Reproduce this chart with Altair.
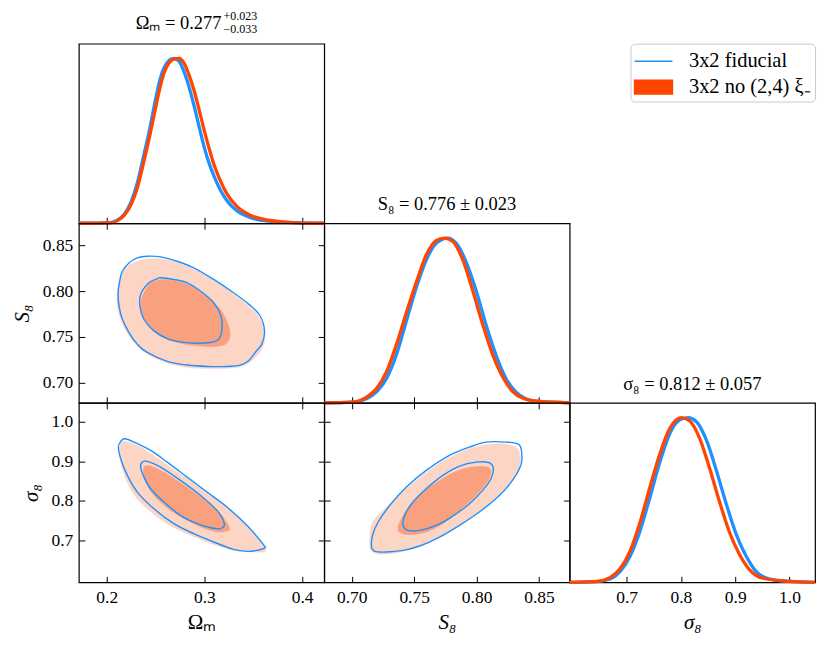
import altair as alt
import pandas as pd

# ---------------- 1D marginal posteriors (peak normalised) ----------------
om_fid_x = [0.172, 0.2044, 0.2112, 0.2180, 0.2247, 0.2315, 0.2383, 0.2434, 0.2485, 0.2536, 0.2586, 0.2637, 0.2688, 0.2739,
            0.2790, 0.2841, 0.2892, 0.2942, 0.2993, 0.3044, 0.3095, 0.3163, 0.3231, 0.3332, 0.3468, 0.3637, 0.3908, 0.4220]
om_fid_p = [0.0, 0.004, 0.020, 0.055, 0.127, 0.249, 0.422, 0.555, 0.708, 0.851, 0.943, 0.988, 1.000, 0.984,
            0.922, 0.831, 0.718, 0.596, 0.473, 0.371, 0.290, 0.202, 0.137, 0.076, 0.035, 0.014, 0.004, 0.0]
om_alt_x = [0.172, 0.2044, 0.2112, 0.2180, 0.2247, 0.2315, 0.2383, 0.2434, 0.2485, 0.2536, 0.2586, 0.2637, 0.2688, 0.2739,
            0.2790, 0.2841, 0.2892, 0.2942, 0.2993, 0.3044, 0.3095, 0.3163, 0.3231, 0.3332, 0.3468, 0.3637, 0.3908, 0.4220]
om_alt_p = [0.0, 0.004, 0.016, 0.049, 0.110, 0.218, 0.382, 0.514, 0.657, 0.800, 0.912, 0.973, 0.996, 1.000,
            0.973, 0.902, 0.810, 0.698, 0.576, 0.463, 0.361, 0.259, 0.178, 0.102, 0.049, 0.020, 0.004, 0.0]

s8_fid_x = [0.678, 0.7000, 0.7119, 0.7199, 0.7279, 0.7358, 0.7438, 0.7518, 0.7597, 0.7677, 0.7770, 0.7836, 0.7916,
            0.7996, 0.8075, 0.8155, 0.8235, 0.8314, 0.8394, 0.8500, 0.8745]
s8_fid_p = [0.0, 0.004, 0.025, 0.066, 0.148, 0.292, 0.497, 0.702, 0.867, 0.969, 1.0, 0.969, 0.856,
            0.682, 0.476, 0.292, 0.148, 0.066, 0.025, 0.008, 0.0]
s8_alt_x = [0.678, 0.7000, 0.7119, 0.7199, 0.7279, 0.7358, 0.7438, 0.7518, 0.7597, 0.7677, 0.7743, 0.7810, 0.7890,
            0.7969, 0.8049, 0.8129, 0.8208, 0.8288, 0.8367, 0.8500, 0.8745]
s8_alt_p = [0.0, 0.004, 0.035, 0.086, 0.189, 0.353, 0.548, 0.733, 0.897, 0.986, 1.0, 0.979, 0.867,
            0.682, 0.476, 0.292, 0.158, 0.070, 0.029, 0.008, 0.0]

sg_fid_x = [0.595, 0.6449, 0.6694, 0.6878, 0.7061, 0.7245, 0.7429, 0.7612, 0.7796, 0.7980, 0.8133, 0.8286, 0.8470,
            0.8653, 0.8837, 0.9021, 0.9205, 0.9388, 0.9633, 1.0000, 1.047]
sg_fid_p = [0.0, 0.004, 0.020, 0.065, 0.157, 0.311, 0.515, 0.730, 0.904, 0.986, 1.0, 0.975, 0.863,
            0.679, 0.474, 0.290, 0.157, 0.065, 0.020, 0.006, 0.0]
sg_alt_x = [0.595, 0.6449, 0.6694, 0.6878, 0.7061, 0.7245, 0.7429, 0.7612, 0.7796, 0.8010, 0.8163, 0.8347, 0.8531,
            0.8715, 0.8898, 0.9082, 0.9266, 0.9511, 1.0000, 1.047]
sg_alt_p = [0.0, 0.006, 0.029, 0.082, 0.188, 0.362, 0.577, 0.781, 0.935, 1.0, 0.980, 0.873, 0.689,
            0.485, 0.301, 0.168, 0.076, 0.025, 0.006, 0.0]

# ---------------- 2D contours: S8 vs Omega_m ----------------
s8om_fid_out_x = [0.2116, 0.2136, 0.2160, 0.2228, 0.2313, 0.2415, 0.2551, 0.2721, 0.2891, 0.3095, 0.3299, 0.3469, 0.3571, 0.3616,
                  0.3588, 0.3520, 0.3452, 0.3367, 0.3231, 0.3027, 0.2823, 0.2619, 0.2415, 0.2313, 0.2228, 0.2160, 0.2126]
s8om_fid_out_y = [0.7984, 0.8130, 0.8220, 0.8311, 0.8366, 0.8384, 0.8377, 0.8329, 0.8257, 0.8130, 0.7984, 0.7846, 0.7730, 0.7567,
                  0.7422, 0.7331, 0.7240, 0.7193, 0.7178, 0.7178, 0.7193, 0.7233, 0.7331, 0.7422, 0.7549, 0.7694, 0.7839]
s8om_alt_out_x = [0.2109, 0.2143, 0.2245, 0.2415, 0.2585, 0.2755, 0.2959, 0.3163, 0.3367, 0.3520, 0.3599, 0.3616,
                  0.3588, 0.3503, 0.3401, 0.3231, 0.2959, 0.2721, 0.2517, 0.2347, 0.2228, 0.2143, 0.2109]
s8om_alt_out_y = [0.7984, 0.8166, 0.8293, 0.8355, 0.8347, 0.8304, 0.8202, 0.8075, 0.7912, 0.7767, 0.7621, 0.7476,
                  0.7367, 0.7258, 0.7186, 0.7157, 0.7157, 0.7186, 0.7258, 0.7367, 0.7512, 0.7694, 0.7839]
s8om_fid_in_x = [0.2347, 0.2432, 0.2517, 0.2551, 0.2687, 0.2823, 0.2959, 0.3095, 0.3170, 0.3180, 0.3146, 0.3061,
                 0.2925, 0.2755, 0.2619, 0.2483, 0.2381, 0.2340]
s8om_fid_in_y = [0.7966, 0.8093, 0.8137, 0.8148, 0.8130, 0.8093, 0.8003, 0.7875, 0.7730, 0.7585, 0.7476, 0.7440,
                 0.7432, 0.7447, 0.7483, 0.7567, 0.7694, 0.7839]
s8om_alt_in_x = [0.2354, 0.2432, 0.2483, 0.2619, 0.2823, 0.2993, 0.3163, 0.3248, 0.3259, 0.3214, 0.3095, 0.2925,
                 0.2721, 0.2551, 0.2432, 0.2364]
s8om_alt_in_y = [0.7912, 0.8075, 0.8111, 0.8130, 0.8075, 0.7966, 0.7803, 0.7621, 0.7494, 0.7422, 0.7396, 0.7403,
                 0.7440, 0.7512, 0.7621, 0.7767]

# ---------------- 2D contours: sigma8 vs Omega_m ----------------
sgom_fid_out_x = [0.2119, 0.2143, 0.2184, 0.2279, 0.2449, 0.2619, 0.2823, 0.3027, 0.3231, 0.3435, 0.3605, 0.3616,
                  0.3537, 0.3435, 0.3299, 0.3095, 0.2891, 0.2687, 0.2483, 0.2313, 0.2211, 0.2143]
sgom_fid_out_y = [0.9355, 0.9497, 0.9564, 0.9480, 0.9271, 0.8977, 0.8600, 0.8223, 0.7846, 0.7385, 0.6899, 0.6815,
                  0.6756, 0.6731, 0.6781, 0.6966, 0.7175, 0.7427, 0.7804, 0.8223, 0.8642, 0.9061]
sgom_alt_out_x = [0.2136, 0.2184, 0.2347, 0.2551, 0.2823, 0.3095, 0.3367, 0.3571, 0.3629, 0.3605, 0.3503, 0.3367,
                  0.3231, 0.3027, 0.2823, 0.2619, 0.2415, 0.2262, 0.2170, 0.2136]
sgom_alt_out_y = [0.9396, 0.9497, 0.9355, 0.9019, 0.8558, 0.8097, 0.7552, 0.6966, 0.6781, 0.6714, 0.6714, 0.6731,
                  0.6798, 0.6966, 0.7175, 0.7427, 0.7804, 0.8223, 0.8726, 0.9103]
sgom_fid_in_x = [0.2347, 0.2364, 0.2415, 0.2551, 0.2755, 0.2959, 0.3129, 0.3204, 0.3163, 0.3061, 0.2925, 0.2755,
                 0.2585, 0.2449, 0.2374]
sgom_fid_in_y = [0.8852, 0.8977, 0.8994, 0.8852, 0.8516, 0.8139, 0.7762, 0.7427, 0.7301, 0.7326, 0.7427, 0.7636,
                 0.7972, 0.8307, 0.8642]
sgom_alt_in_x = [0.2374, 0.2415, 0.2551, 0.2755, 0.2959, 0.3146, 0.3248, 0.3248, 0.3163, 0.3027, 0.2857, 0.2653,
                 0.2483, 0.2398]
sgom_alt_in_y = [0.8768, 0.8894, 0.8768, 0.8458, 0.8097, 0.7720, 0.7368, 0.7259, 0.7217, 0.7284, 0.7469, 0.7762,
                 0.8139, 0.8474]

# ---------------- 2D contours: sigma8 vs S8 ----------------
sgs8_fid_out_x = [0.8075, 0.8235, 0.8341, 0.8362, 0.8354, 0.8288, 0.8182, 0.8022, 0.7863, 0.7704, 0.7544, 0.7412,
                  0.7279, 0.7186, 0.7159, 0.7167, 0.7212, 0.7305, 0.7438, 0.7597, 0.7783, 0.7943]
sgs8_fid_out_y = [0.9480, 0.9480, 0.9413, 0.9145, 0.8894, 0.8516, 0.8139, 0.7720, 0.7385, 0.7091, 0.6865, 0.6756,
                  0.6714, 0.6731, 0.6840, 0.7133, 0.7469, 0.7888, 0.8349, 0.8768, 0.9145, 0.9355]
sgs8_alt_out_x = [0.7146, 0.7151, 0.7186, 0.7252, 0.7358, 0.7518, 0.7677, 0.7863, 0.8022, 0.8182, 0.8314, 0.8349,
                  0.8336, 0.8275, 0.8155, 0.7996, 0.7810, 0.7624, 0.7465, 0.7305, 0.7199, 0.7151]
sgs8_alt_out_y = [0.6966, 0.7301, 0.7552, 0.7762, 0.8097, 0.8516, 0.8894, 0.9212, 0.9380, 0.9438, 0.9355, 0.9103,
                  0.8810, 0.8474, 0.8097, 0.7678, 0.7301, 0.6966, 0.6773, 0.6672, 0.6672, 0.6781]
sgs8_fid_in_x = [0.7425, 0.7491, 0.7597, 0.7730, 0.7863, 0.7996, 0.8102, 0.8134, 0.8115, 0.8049, 0.7943, 0.7810,
                 0.7677, 0.7544, 0.7451, 0.7412]
sgs8_fid_in_y = [0.7636, 0.7972, 0.8307, 0.8642, 0.8877, 0.8977, 0.8961, 0.8810, 0.8558, 0.8265, 0.7930, 0.7619,
                 0.7385, 0.7259, 0.7259, 0.7385]
sgs8_alt_in_x = [0.7372, 0.7398, 0.7465, 0.7571, 0.7704, 0.7836, 0.7969, 0.8089, 0.8115, 0.8075, 0.7996, 0.7863,
                 0.7730, 0.7597, 0.7465, 0.7385]
sgs8_alt_in_y = [0.7343, 0.7552, 0.7888, 0.8223, 0.8516, 0.8743, 0.8852, 0.8852, 0.8684, 0.8433, 0.8139, 0.7762,
                 0.7427, 0.7217, 0.7150, 0.7200]

# ---------------- labels / ticks ----------------
legend_labels = ["3x2 fiducial", "3x2 no (2,4) ξ₋"]
om_ticks = [0.2, 0.3, 0.4]
s8_ticks = [0.70, 0.75, 0.80, 0.85]
sg_ticks = [0.7, 0.8, 0.9, 1.0]
om_title = "Ωₘ"
s8_title = "S₈"
sg_title = "σ₈"
om_summary = ["Ωₘ = 0.277", "+0.023", "−0.033"]
s8_summary = "S₈ = 0.776 ± 0.023"
sg_summary = "σ₈ = 0.812 ± 0.057"

# ---------------- style ----------------
BLUE = "#1E90FF"
RED = "#FF4500"
FILL_OUT = "#FDD5C4"
FILL_IN = "#F9A07E"
FONT = "Liberation Serif"
W, H = 246, 180
TK = 6
OM_DOM = [0.1714, 0.4227]
S8_DOM = [0.678, 0.8745]
SG_DOM = [0.595, 1.047]
P_DOM = [0, 1.09]


def curve(xs, ys):
    return pd.DataFrame({"x": xs, "y": ys})


def poly(xs, ys):
    return pd.DataFrame({"x": xs, "y": ys, "i": list(range(len(xs)))})


def axis(orient, values, fmt, labels, title=None, italic=False):
    kw = dict(orient=orient, values=values, format=fmt, labels=labels, offset=-TK, tickSize=TK,
              domain=False, grid=False, labelPadding=6, title=title,
              titleFontStyle="italic" if italic else "normal")
    if orient == "bottom":
        kw["titlePadding"] = 6
    if orient == "left":
        kw["titlePadding"] = 10
    return alt.Axis(**kw)


one = pd.DataFrame({"k": [0]})


def label(text, x, y, size, align="center"):
    return alt.Chart(one).mark_text(align=align, baseline="alphabetic", font=FONT, fontSize=size,
                                    color="black").encode(x=alt.value(x), y=alt.value(y), text=alt.value(text))


def panel2d(fo, fi, lo, li, xdom, ydom, xt, xf, yt, yf, xlab, ylab, xtitle, ytitle, xital, yital):
    xs = alt.Scale(domain=xdom, nice=False, zero=False)
    ys = alt.Scale(domain=ydom, nice=False, zero=False)

    def lay(df, mark, xa, ya):
        return alt.Chart(df).mark_line(**mark).encode(
            x=alt.X("x:Q", scale=xs, axis=xa),
            y=alt.Y("y:Q", scale=ys, axis=ya),
            order=alt.Order("i:Q"),
        )

    m_fo = dict(fill=FILL_OUT, stroke=FILL_OUT, strokeWidth=0.5, interpolate="cardinal-closed", clip=True)
    m_fi = dict(fill=FILL_IN, stroke=FILL_IN, strokeWidth=0.5, interpolate="cardinal-closed", clip=True)
    m_ln = dict(stroke=BLUE, strokeWidth=1.4, interpolate="cardinal-closed", clip=True)
    l1 = lay(fo, m_fo,
             axis("bottom", xt, xf, xlab, xtitle if xlab else None, xital),
             axis("left", yt, yf, ylab, ytitle if ylab else None, yital))
    l2 = lay(fi, m_fi, axis("top", xt, xf, False), axis("right", yt, yf, False))
    l3 = lay(lo, m_ln, None, None)
    l4 = lay(li, m_ln, None, None)
    return alt.layer(l1, l2, l3, l4).resolve_axis(x="independent", y="independent").properties(width=W, height=H)


def panel1d(d_fid, d_alt, dom, xt, xf, xlab, xtitle, xital, extra=None):
    xs = alt.Scale(domain=dom, nice=False, zero=False)
    ys = alt.Scale(domain=P_DOM, nice=False, zero=False)
    a = alt.Chart(d_fid).mark_line(color=BLUE, strokeWidth=3.3, interpolate="monotone").encode(
        x=alt.X("x:Q", scale=xs, axis=axis("bottom", xt, xf, xlab, xtitle if xlab else None, xital)),
        y=alt.Y("y:Q", scale=ys, axis=None))
    b = alt.Chart(d_alt).mark_line(color=RED, strokeWidth=3.3, interpolate="monotone").encode(
        x=alt.X("x:Q", scale=xs, axis=None),
        y=alt.Y("y:Q", scale=ys, axis=None))
    layers = [a, b] + (extra or [])
    return alt.layer(*layers).resolve_axis(x="independent", y="independent").properties(width=W, height=H)


top_om = panel1d(curve(om_fid_x, om_fid_p), curve(om_alt_x, om_alt_p), OM_DOM, om_ticks, ".1f", False, None, False,
                 extra=[label(om_summary[0], 143, -15, 18.5, "right"),
                        label(om_summary[1], 145, -24, 12, "left"),
                        label(om_summary[2], 145, -11, 12, "left")])
s8_1d = panel1d(curve(s8_fid_x, s8_fid_p), curve(s8_alt_x, s8_alt_p), S8_DOM, s8_ticks, ".2f", False, None, False,
                extra=[label(s8_summary, W / 2, -13, 18.5)])
sg_1d = panel1d(curve(sg_fid_x, sg_fid_p), curve(sg_alt_x, sg_alt_p), SG_DOM, sg_ticks, ".1f", True, sg_title, True,
                extra=[label(sg_summary, W / 2, -13, 18.5)])

s8om = panel2d(poly(s8om_alt_out_x, s8om_alt_out_y), poly(s8om_alt_in_x, s8om_alt_in_y),
               poly(s8om_fid_out_x, s8om_fid_out_y), poly(s8om_fid_in_x, s8om_fid_in_y),
               OM_DOM, S8_DOM, om_ticks, ".1f", s8_ticks, ".2f", False, True, om_title, s8_title, False, True)
sgom = panel2d(poly(sgom_alt_out_x, sgom_alt_out_y), poly(sgom_alt_in_x, sgom_alt_in_y),
               poly(sgom_fid_out_x, sgom_fid_out_y), poly(sgom_fid_in_x, sgom_fid_in_y),
               OM_DOM, SG_DOM, om_ticks, ".1f", sg_ticks, ".1f", True, True, om_title, sg_title, False, True)
sgs8 = panel2d(poly(sgs8_alt_out_x, sgs8_alt_out_y), poly(sgs8_alt_in_x, sgs8_alt_in_y),
               poly(sgs8_fid_out_x, sgs8_fid_out_y), poly(sgs8_fid_in_x, sgs8_fid_in_y),
               S8_DOM, SG_DOM, s8_ticks, ".2f", sg_ticks, ".1f", True, False, s8_title, sg_title, True, True)

legend_df = pd.DataFrame({"label": legend_labels})
LINE_SYM = "M-1.5,0H1.5"
RECT_SYM = "M-1.5,-0.55H1.5V0.55H-1.5Z"
leg = alt.Legend(title=None, orient="top-right", offset=0, padding=4, strokeColor="#cccccc", fillColor="white",
                 cornerRadius=4, labelFont=FONT, labelFontSize=20.5, labelColor="black", symbolSize=641,
                 symbolStrokeWidth=1.5, symbolOffset=5.6, labelOffset=22, rowPadding=2, symbolOpacity=1)
legend_cell = alt.Chart(legend_df).mark_point(filled=True).encode(
    fill=alt.Fill("label:N", scale=alt.Scale(domain=legend_labels, range=[BLUE, RED]), legend=leg),
    stroke=alt.Stroke("label:N", scale=alt.Scale(domain=legend_labels, range=[BLUE, RED]), legend=leg),
    shape=alt.Shape("label:N", scale=alt.Scale(domain=legend_labels, range=[LINE_SYM, RECT_SYM]), legend=leg),
    opacity=alt.value(0),
).properties(width=W, height=H, view=alt.ViewBackground(stroke="transparent"))


def blank():
    return alt.Chart(legend_df).mark_point(opacity=0).properties(
        width=W, height=H, view=alt.ViewBackground(stroke="transparent"))


chart = alt.concat(
    top_om, blank(), legend_cell,
    s8om, s8_1d, blank(),
    sgom, sgs8, sg_1d,
    columns=3, spacing=0, bounds="flush",
).resolve_legend(
    fill="independent", stroke="independent", shape="independent"
).properties(
    padding={"left": 2, "top": 0, "right": 0, "bottom": 0}
).configure_view(
    stroke="black", strokeWidth=1.2
).configure_axis(
    labelFont=FONT, labelFontSize=17.5, labelColor="black", titleFont=FONT, titleFontSize=21,
    titleFontWeight="normal", titleColor="black", tickColor="black", tickWidth=1
)

chart.save("out.html", embed_options={"renderer": "svg", "actions": False})
